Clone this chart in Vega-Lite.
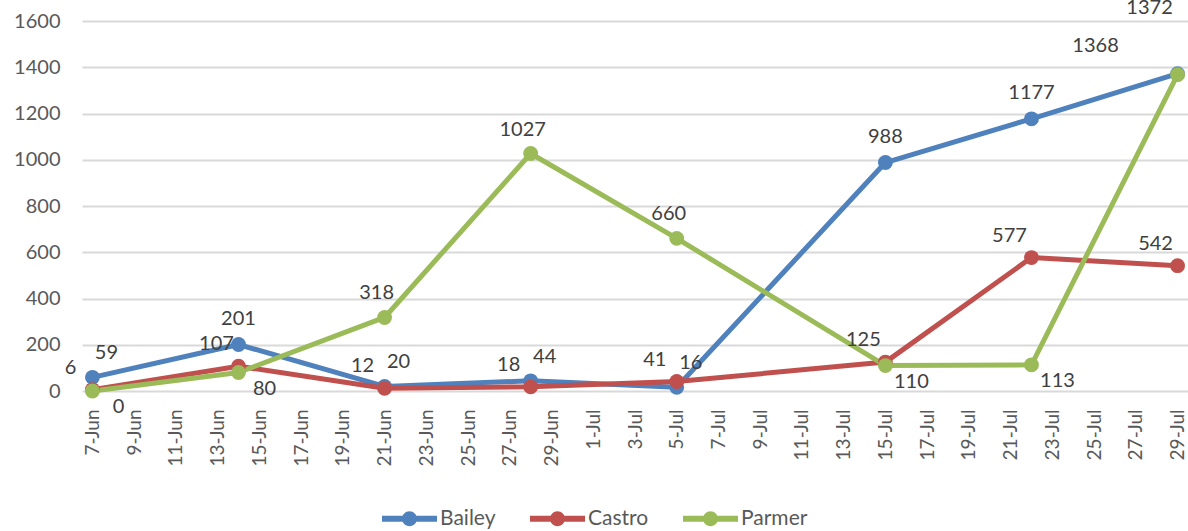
{
  "$schema": "https://vega.github.io/schema/vega-lite/v6.json",
  "width": 1106,
  "height": 370,
  "autosize": {"type": "none"},
  "padding": {"left": 82, "top": 21, "right": 0, "bottom": 140},
  "background": "white",
  "config": {"view": {"stroke": null}, "font": "Lato"},
  "data": {
    "values": [
      {"date": "2020-06-07", "series": "Bailey", "value": 59},
      {"date": "2020-06-14", "series": "Bailey", "value": 201},
      {"date": "2020-06-21", "series": "Bailey", "value": 20},
      {"date": "2020-06-28", "series": "Bailey", "value": 44},
      {"date": "2020-07-05", "series": "Bailey", "value": 16},
      {"date": "2020-07-15", "series": "Bailey", "value": 988},
      {"date": "2020-07-22", "series": "Bailey", "value": 1177},
      {"date": "2020-07-29", "series": "Bailey", "value": 1372},
      {"date": "2020-06-07", "series": "Castro", "value": 6},
      {"date": "2020-06-14", "series": "Castro", "value": 107},
      {"date": "2020-06-21", "series": "Castro", "value": 12},
      {"date": "2020-06-28", "series": "Castro", "value": 18},
      {"date": "2020-07-05", "series": "Castro", "value": 41},
      {"date": "2020-07-15", "series": "Castro", "value": 125},
      {"date": "2020-07-22", "series": "Castro", "value": 577},
      {"date": "2020-07-29", "series": "Castro", "value": 542},
      {"date": "2020-06-07", "series": "Parmer", "value": 0},
      {"date": "2020-06-14", "series": "Parmer", "value": 80},
      {"date": "2020-06-21", "series": "Parmer", "value": 318},
      {"date": "2020-06-28", "series": "Parmer", "value": 1027},
      {"date": "2020-07-05", "series": "Parmer", "value": 660},
      {"date": "2020-07-15", "series": "Parmer", "value": 110},
      {"date": "2020-07-22", "series": "Parmer", "value": 113},
      {"date": "2020-07-29", "series": "Parmer", "value": 1368}
    ]
  },
  "encoding": {
    "x": {
      "field": "date",
      "type": "temporal",
      "scale": {"type": "utc", "domain": [1591444800000, 1596024000000]},
      "axis": {
        "title": null,
        "values": [1591488000000, 1591660800000, 1591833600000, 1592006400000, 1592179200000, 1592352000000, 1592524800000, 1592697600000, 1592870400000, 1593043200000, 1593216000000, 1593388800000, 1593561600000, 1593734400000, 1593907200000, 1594080000000, 1594252800000, 1594425600000, 1594598400000, 1594771200000, 1594944000000, 1595116800000, 1595289600000, 1595462400000, 1595635200000, 1595808000000, 1595980800000],
        "format": "%-d-%b",
        "labelAngle": -90,
        "labelFontSize": 19,
        "labelColor": "#595959",
        "labelPadding": 18,
        "ticks": false,
        "domain": false,
        "grid": false,
        "labelOverlap": false,
        "labelFlush": false
      }
    },
    "y": {
      "field": "value",
      "type": "quantitative",
      "scale": {"domain": [0, 1600], "nice": false},
      "axis": {
        "title": null,
        "values": [0, 200, 400, 600, 800, 1000, 1200, 1400, 1600],
        "format": "d",
        "labelFontSize": 20,
        "labelColor": "#595959",
        "labelPadding": 22,
        "ticks": false,
        "domain": false,
        "grid": true,
        "gridColor": "#d9d9d9",
        "gridWidth": 2
      }
    },
    "color": {
      "field": "series",
      "type": "nominal",
      "scale": {"domain": ["Bailey", "Castro", "Parmer"], "range": ["#4F81BD", "#C0504D", "#9BBB59"]},
      "legend": {
        "title": null,
        "orient": "none",
        "direction": "horizontal",
        "legendX": 300,
        "legendY": 470,
        "symbolType": "M-1,-0.11H1V0.11H-1Z M-0.27,0A0.27,0.27 0 1,1 0.27,0A0.27,0.27 0 1,1 -0.27,0Z",
        "symbolSize": 3025,
        "symbolStrokeWidth": 0,
        "symbolOpacity": 1,
        "labelFontSize": 21,
        "labelColor": "#595959",
        "labelOffset": 3,
        "columnPadding": 34
      }
    }
  },
  "layer": [
    {"mark": {"type": "line", "strokeWidth": 5, "strokeCap": "round", "strokeJoin": "round"}},
    {"mark": {"type": "circle", "size": 220, "opacity": 1}},
    {
      "transform": [{"filter": "datum.series === 'Bailey' && datum.value >= 100 && datum.value < 1300"}],
      "mark": {"type": "text", "dy": -26, "dx": 0, "fontSize": 20},
      "encoding": {"text": {"field": "value"}, "color": {"value": "#404040"}}
    },
    {
      "transform": [{"filter": "datum.series === 'Bailey' && datum.value < 100"}],
      "mark": {"type": "text", "dy": -24, "dx": 14, "fontSize": 20},
      "encoding": {"text": {"field": "value"}, "color": {"value": "#404040"}}
    },
    {
      "transform": [{"filter": "datum.series === 'Bailey' && datum.value >= 1300"}],
      "mark": {"type": "text", "dy": -66, "dx": -28, "fontSize": 20},
      "encoding": {"text": {"field": "value"}, "color": {"value": "#404040"}}
    },
    {
      "transform": [{"filter": "datum.series === 'Castro'"}],
      "mark": {"type": "text", "dy": -22, "dx": -22, "fontSize": 20},
      "encoding": {"text": {"field": "value"}, "color": {"value": "#404040"}}
    },
    {
      "transform": [{"filter": "datum.series === 'Parmer' && datum.value > 200 && datum.value < 1300"}],
      "mark": {"type": "text", "dy": -24, "dx": -8, "fontSize": 20},
      "encoding": {"text": {"field": "value"}, "color": {"value": "#404040"}}
    },
    {
      "transform": [{"filter": "datum.series === 'Parmer' && datum.value >= 1300"}],
      "mark": {"type": "text", "dy": -29, "dx": -82, "fontSize": 20},
      "encoding": {"text": {"field": "value"}, "color": {"value": "#404040"}}
    },
    {
      "transform": [{"filter": "datum.series === 'Parmer' && datum.value <= 200"}],
      "mark": {"type": "text", "dy": 16, "dx": 26, "fontSize": 20},
      "encoding": {"text": {"field": "value"}, "color": {"value": "#404040"}}
    }
  ]
}
